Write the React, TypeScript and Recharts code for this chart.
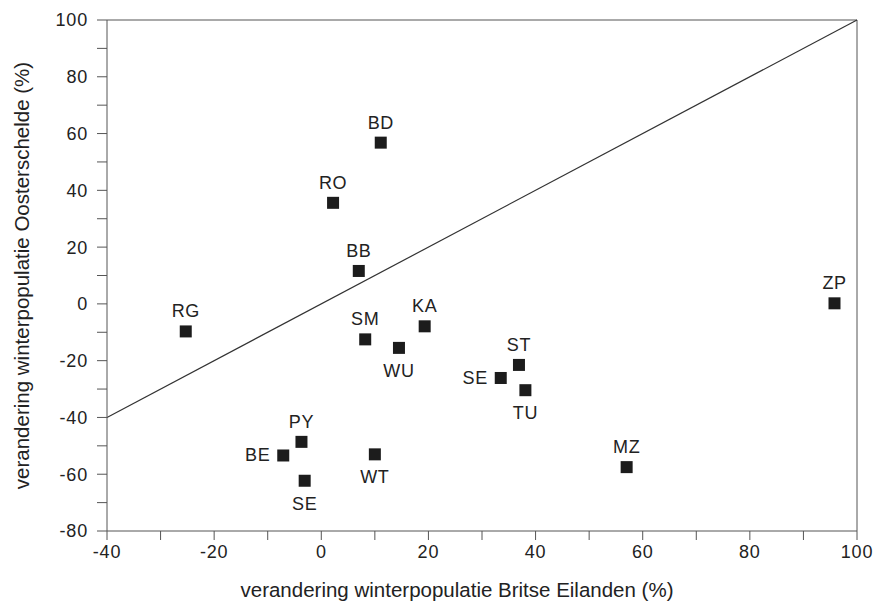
import { ScatterChart, Scatter, XAxis, YAxis, ReferenceLine } from 'recharts'

const SITES = ['BD', 'RO', 'BB', 'RG', 'SM', 'KA', 'WU', 'PY', 'BE', 'SE', 'WT', 'ST', 'SE', 'TU', 'MZ', 'ZP']
const BRITAIN = [11.1, 2.2, 7.0, -25.3, 8.2, 19.3, 14.5, -3.7, -7.1, -3.1, 10.0, 36.9, 33.5, 38.1, 57.0, 95.8]
const OOSTERSCHELDE = [56.8, 35.6, 11.6, -9.7, -12.5, -7.9, -15.5, -48.6, -53.4, -62.3, -53.0, -21.5, -26.1, -30.4, -57.5, 0.2]

const X_TICKS = [-40, -30, -20, -10, 0, 10, 20, 30, 40, 50, 60, 70, 80, 90, 100]
const Y_TICKS = [-80, -70, -60, -50, -40, -30, -20, -10, 0, 10, 20, 30, 40, 50, 60, 70, 80, 90, 100]
const DIAGONAL = [-40, 100]

// where each site label sits relative to its marker
const LABEL_SIDE = ['top', 'top', 'top', 'top', 'top', 'top', 'bottom', 'top', 'left', 'bottom', 'bottom', 'top', 'left', 'bottom', 'top', 'top']

const FONT = '"Liberation Sans", Arial, sans-serif'
const INK = '#222'

const data = SITES.map((site, i) => ({ site, i, x: BRITAIN[i], y: OOSTERSCHELDE[i] }))

const showMajor = (v: number) => (v % 20 === 0 ? String(v) : '')

function SiteMarker(props: any) {
  const { cx, cy, payload } = props
  const side = LABEL_SIDE[payload.i]
  let tx = cx
  let ty = cy - 20
  let anchor: 'middle' | 'end' = 'middle'
  if (side === 'bottom') ty = cy + 23
  if (side === 'left') {
    tx = cx - 13
    ty = cy
    anchor = 'end'
  }
  return (
    <g>
      <rect x={cx - 6} y={cy - 6} width={12} height={12} fill="#1c1c1c" />
      <text
        x={tx}
        y={ty}
        textAnchor={anchor}
        dominantBaseline="central"
        fontFamily={FONT}
        fontSize={18}
        letterSpacing={0.6}
        fill={INK}
      >
        {payload.site}
      </text>
    </g>
  )
}

export default function App() {
  const tick = { fontFamily: FONT, fontSize: 18, fill: INK, letterSpacing: 0.8 }
  return (
    <div style={{ position: 'absolute', left: 0, top: 0, background: '#fff' }}>
      <ScatterChart width={876} height={602} margin={{ top: 20, right: 19, bottom: 0, left: 0 }}>
        <XAxis
          type="number"
          dataKey="x"
          domain={[-40, 100]}
          ticks={X_TICKS}
          tickFormatter={showMajor}
          interval={0}
          allowDataOverflow
          height={71}
          tickSize={9}
          tickMargin={5}
          stroke="#555"
          tick={tick}
          label={{
            value: 'verandering winterpopulatie Britse Eilanden (%)',
            position: 'insideBottom',
            offset: 5,
            style: { fontFamily: FONT, fontSize: 20.5, fill: INK, transform: 'translateX(-25px)' },
          }}
        />
        <YAxis
          type="number"
          dataKey="y"
          domain={[-80, 100]}
          ticks={Y_TICKS}
          tickFormatter={showMajor}
          interval={0}
          allowDataOverflow
          width={107}
          tickSize={10}
          tickMargin={9}
          stroke="#555"
          tick={tick}
          label={{
            value: 'verandering winterpopulatie Oosterschelde (%)',
            angle: -90,
            position: 'insideLeft',
            offset: 22,
            style: { fontFamily: FONT, fontSize: 20.5, fill: INK, textAnchor: 'middle' },
          }}
        />
        <ReferenceLine y={100} stroke="#555" ifOverflow="visible" />
        <ReferenceLine x={100} stroke="#555" ifOverflow="visible" />
        <ReferenceLine
          segment={[
            { x: DIAGONAL[0], y: DIAGONAL[0] },
            { x: DIAGONAL[1], y: DIAGONAL[1] },
          ]}
          stroke="#333"
          strokeWidth={1.2}
          ifOverflow="visible"
        />
        <Scatter data={data} shape={<SiteMarker />} isAnimationActive={false} />
      </ScatterChart>
    </div>
  )
}
